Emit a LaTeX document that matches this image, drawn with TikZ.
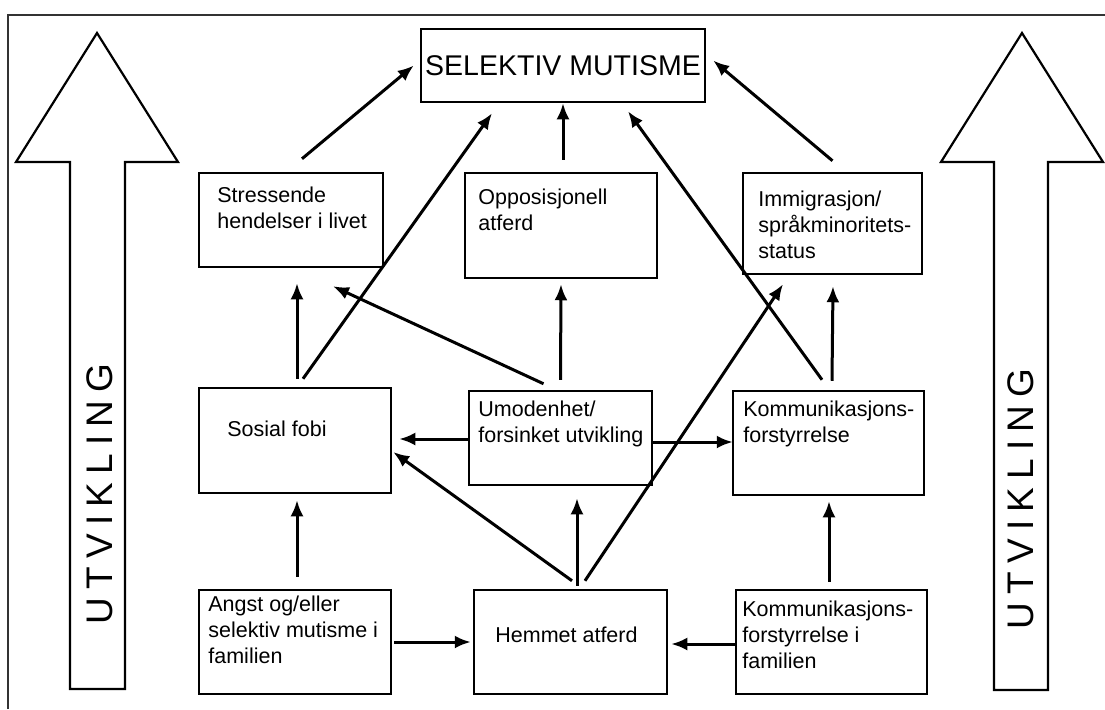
\documentclass[tikz,border=0pt]{standalone}
\usepackage{fontspec}
\setmainfont{Liberation Sans}
\newfontfamily\spacedfont[LetterSpace=22]{Liberation Sans}
\usetikzlibrary{arrows.meta, positioning, calc}

\begin{document}
\begin{tikzpicture}[x=0.5pt, y=-0.5pt,
    box/.style={draw, line width=1.25pt, inner sep=0pt},
    txt/.style={anchor=north west, inner sep=0pt, align=left, font=\fontsize{10.75}{12.9}\selectfont},
    arr/.style={-{Latex[length=8pt,width=6.5pt]}, line width=1.5pt},
    bigarrow/.style={draw, line width=1.1pt, fill=white},
    side/.style={rotate=90, inner sep=0pt, font=\fontsize{18.5}{20}\spacedfont}]

\useasboundingbox (0,0) rectangle (1105,709);
\draw[line width=1.2pt, black!80] (8,709) -- (8,15) -- (1105,15);

% development arrows
\draw[bigarrow] (70,689) -- (70,162) -- (16,162) -- (97,33) -- (178,162) -- (125,162) -- (125,689) -- cycle;
\draw[bigarrow] (994,690) -- (994,162) -- (941,162) -- (1022,33) -- (1103,162) -- (1048,162) -- (1048,690) -- cycle;
\node[side] (devleft) at (100,494) {UTVIKLING};
\node[side] (devright) at (1021,499) {UTVIKLING};

% boxes
\node[box, minimum width=142pt, minimum height=36.5pt, font=\fontsize{14.25}{16}\selectfont] (sel) at (563,65.5) {SELEKTIV MUTISME};

\node[box, minimum width=92pt, minimum height=47pt] (stress) at (291,220) {};
\node[box, minimum width=96pt, minimum height=52.5pt] (opp) at (561,225.5) {};
\node[box, minimum width=89.5pt, minimum height=50.5pt] (immi) at (832.5,223.5) {};

\node[box, minimum width=96pt, minimum height=52.5pt] (sosial) at (295,440.5) {};
\node[box, minimum width=91.5pt, minimum height=47pt] (umod) at (560.5,438) {};
\node[box, minimum width=95.5pt, minimum height=52pt] (komm) at (828.5,443) {};

\node[box, minimum width=96pt, minimum height=52pt] (angst) at (295,642) {};
\node[box, minimum width=96.5pt, minimum height=52pt] (hemmet) at (570.5,642) {};
\node[box, minimum width=95.5pt, minimum height=52pt] (kommfam) at (831.5,642) {};

% box texts
\node[txt] (stresstxt) at (217,187) {Stressende\\hendelser i livet};
\node[txt] (opptxt) at (478,189) {Opposisjonell\\atferd};
\node[txt] (immitxt) at (758,191) {Immigrasjon/\\språkminoritets-\\status};
\node[txt] (sosialtxt) at (227,421) {Sosial fobi};
\node[txt] (umodtxt) at (478,401) {Umodenhet/\\forsinket utvikling};
\node[txt] (kommtxt) at (743,401) {Kommunikasjons-\\forstyrrelse};
\node[txt] (angsttxt) at (208,596) {Angst og/eller\\selektiv mutisme i\\familien};
\node[txt] (hemmettxt) at (495,627) {Hemmet atferd};
\node[txt] (kommfamtxt) at (742,601) {Kommunikasjons-\\forstyrrelse i\\familien};

% connectors
\draw[arr] ($(stress.north)+(11,-13)$) -- ($(sel.west)+(-6,0)$);
\draw[arr] ($(opp.north)+(2,-12)$) -- (sel.south);
\draw[arr] ($(immi.north)+(0,-11)$) -- ($(sel.east)+(7,-5)$);

\draw[arr] ($(sosial.north)+(2,-8)$) -- ($(stress.south)+(6,15)$);
\draw[arr] ($(sosial.north)+(8,-8)$) -- ($(sel.south)+(-71,10)$);
\draw[arr] ($(umod.north)+(-17,-6)$) -- ($(stress.south)+(42,18)$);
\draw[arr] ($(umod.north)+(0,-10)$) -- ($(opp.south)+(0,5)$);
\draw[arr] ($(komm.north)+(3.5,-9)$) -- ($(immi.south)+(0.5,11)$);
\draw[arr] ($(komm.north)+(-6.5,-10)$) -- ($(sel.south)+(65,8)$);

\draw[arr] ($(umod.west)+(0,1)$) -- ($(sosial.east)+(7,-1.5)$);
\draw[arr] ($(umod.east)+(0,4)$) -- ($(komm.west)+(1,-1)$);

\draw[arr] ($(hemmet.north)+(1.5,-8)$) -- ($(sosial.east)+(1,11.5)$);
\draw[arr] ($(hemmet.north)+(6.5,-3)$) -- ($(umod.south)+(16.5,12)$);
\draw[arr] ($(hemmet.north)+(14.5,-8)$) -- ($(immi.south)+(-49.5,9)$);
\draw[arr] ($(angst.north)+(2,-12)$) -- ($(sosial.south)+(2,6)$);
\draw[arr] ($(kommfam.north)+(-2.5,-7)$) -- ($(komm.south)+(0.5,5)$);

\draw[arr] ($(angst.east)+(2,0)$) -- ($(hemmet.west)+(-2,0)$);
\draw[arr] ($(kommfam.west)+(0,2)$) -- ($(hemmet.east)+(3,2)$);
\end{tikzpicture}
\end{document}
